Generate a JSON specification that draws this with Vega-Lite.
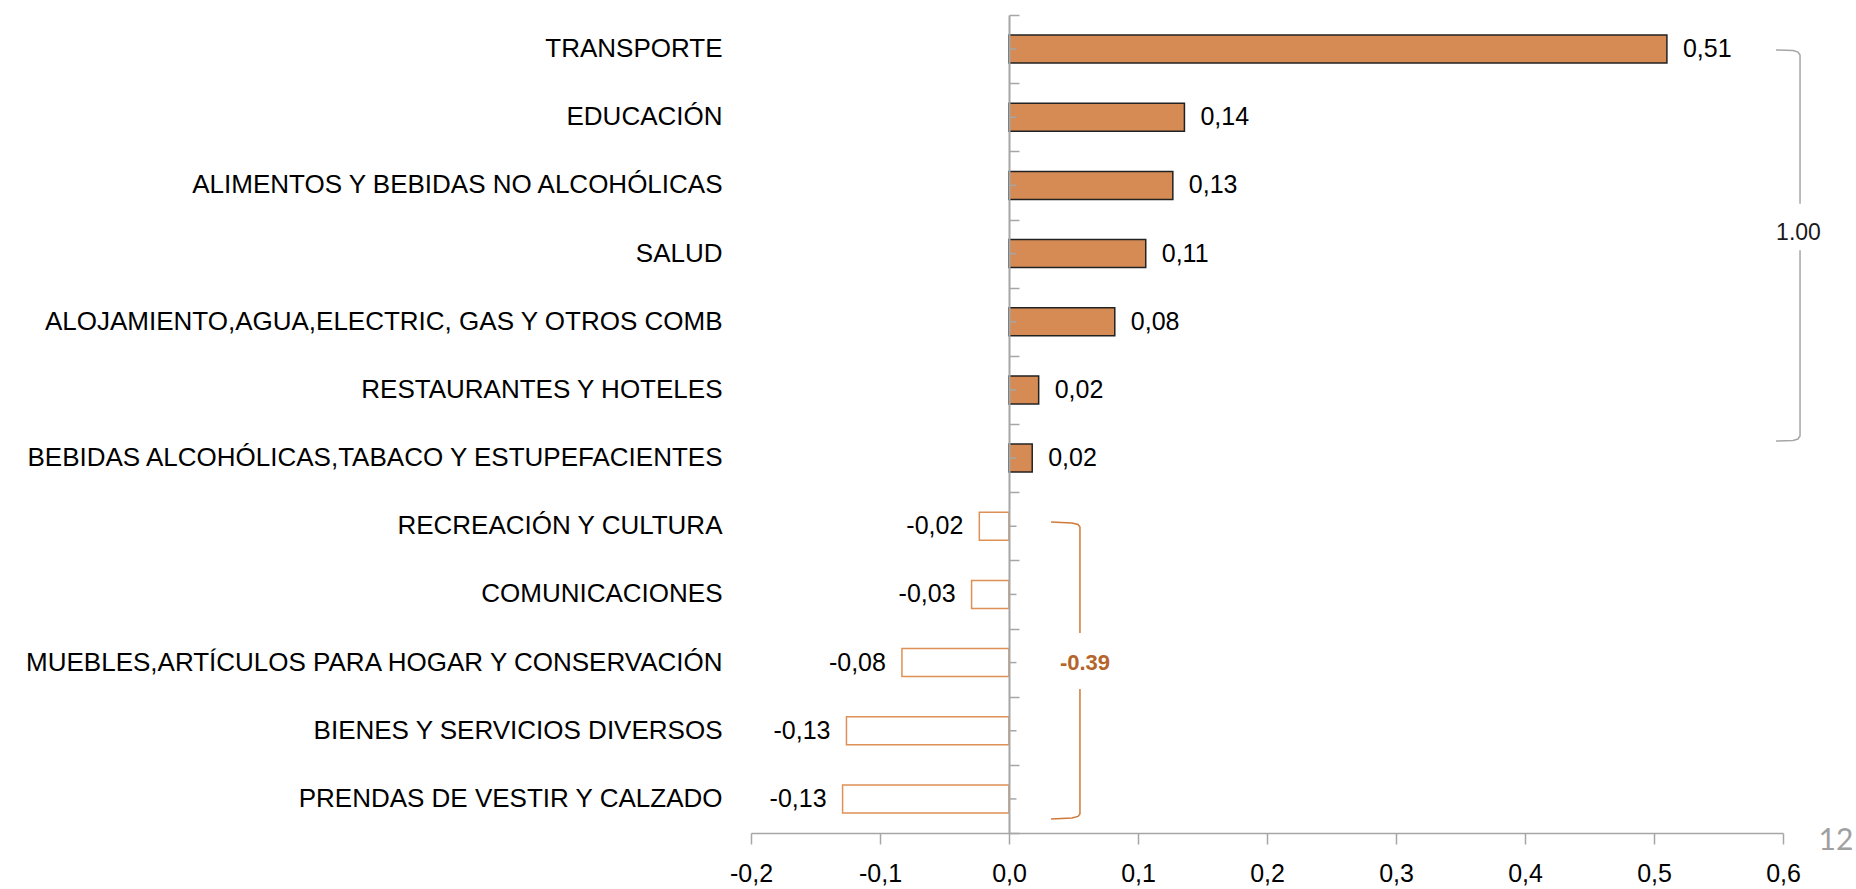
{
  "$schema": "https://vega.github.io/schema/vega-lite/v6.json",
  "width": 1032,
  "height": 818,
  "autosize": "none",
  "padding": {"left": 751, "top": 15, "right": 73, "bottom": 56},
  "background": "white",
  "config": {
    "view": {"stroke": null},
    "locale": {"number": {"decimal": ",", "thousands": ".", "grouping": [3], "currency": ["", ""], "minus": "-"}}
  },
  "datasets": {
    "rubros": [
      {"cat": "TRANSPORTE", "v": 0.51},
      {"cat": "EDUCACIÓN\u00a0", "v": 0.136},
      {"cat": "ALIMENTOS Y BEBIDAS NO ALCOHÓLICAS\u00a0", "v": 0.127},
      {"cat": "SALUD", "v": 0.106},
      {"cat": "ALOJAMIENTO,AGUA,ELECTRIC, GAS Y OTROS COMB\u00a0", "v": 0.082},
      {"cat": "RESTAURANTES Y HOTELES", "v": 0.023},
      {"cat": "BEBIDAS ALCOHÓLICAS,TABACO Y ESTUPEFACIENTES\u00a0", "v": 0.018},
      {"cat": "RECREACIÓN Y CULTURA\u00a0", "v": -0.023},
      {"cat": "COMUNICACIONES\u00a0", "v": -0.029},
      {"cat": "MUEBLES,ARTÍCULOS PARA HOGAR Y CONSERVACIÓN", "v": -0.083},
      {"cat": "BIENES Y SERVICIOS DIVERSOS\u00a0", "v": -0.126},
      {"cat": "PRENDAS DE VESTIR Y CALZADO", "v": -0.129}
    ],
    "llaves": [
      {"grp": "pos", "seg": "p1", "ord": 1, "x": 0.5946, "y": 0.513},
      {"grp": "pos", "seg": "p1", "ord": 2, "x": 0.6078, "y": 0.52},
      {"grp": "pos", "seg": "p1", "ord": 3, "x": 0.6116, "y": 0.543},
      {"grp": "pos", "seg": "p1", "ord": 4, "x": 0.6132, "y": 0.587},
      {"grp": "pos", "seg": "p1", "ord": 5, "x": 0.6132, "y": 2.77},
      {"grp": "pos", "seg": "p2", "ord": 1, "x": 0.6132, "y": 3.45},
      {"grp": "pos", "seg": "p2", "ord": 2, "x": 0.6132, "y": 6.176},
      {"grp": "pos", "seg": "p2", "ord": 3, "x": 0.6116, "y": 6.22},
      {"grp": "pos", "seg": "p2", "ord": 4, "x": 0.6078, "y": 6.242},
      {"grp": "pos", "seg": "p2", "ord": 5, "x": 0.5946, "y": 6.25},
      {"grp": "neg", "seg": "n1", "ord": 1, "x": 0.0326, "y": 7.437},
      {"grp": "neg", "seg": "n1", "ord": 2, "x": 0.0488, "y": 7.452},
      {"grp": "neg", "seg": "n1", "ord": 3, "x": 0.0535, "y": 7.474},
      {"grp": "neg", "seg": "n1", "ord": 4, "x": 0.055, "y": 7.511},
      {"grp": "neg", "seg": "n1", "ord": 5, "x": 0.055, "y": 9.066},
      {"grp": "neg", "seg": "n2", "ord": 1, "x": 0.055, "y": 9.887},
      {"grp": "neg", "seg": "n2", "ord": 2, "x": 0.055, "y": 11.72},
      {"grp": "neg", "seg": "n2", "ord": 3, "x": 0.0535, "y": 11.757},
      {"grp": "neg", "seg": "n2", "ord": 4, "x": 0.0488, "y": 11.78},
      {"grp": "neg", "seg": "n2", "ord": 5, "x": 0.0326, "y": 11.794}
    ]
  },
  "layer": [
    {
      "data": {"name": "rubros"},
      "mark": {"type": "bar", "strokeWidth": 1.5},
      "encoding": {
        "y": {
          "field": "cat", "type": "nominal", "sort": null,
          "scale": {"paddingInner": 0.59, "paddingOuter": 0.295},
          "axis": {
            "orient": "left", "title": null, "domain": false, "ticks": false,
            "labelFont": "Liberation Sans, Arial, sans-serif",
            "labelFontSize": 26, "labelColor": "#000000", "labelPadding": 29, "labelLimit": 1200
          }
        },
        "x": {
          "field": "v", "type": "quantitative", "title": null,
          "scale": {"domain": [-0.2, 0.6], "nice": false},
          "axis": {
            "title": null, "grid": false,
            "values": [-0.2, -0.1, 0, 0.1, 0.2, 0.3, 0.4, 0.5, 0.6],
            "format": ".1f",
            "domainColor": "#A6A6A6", "domainWidth": 1.5,
            "tickColor": "#A6A6A6", "tickWidth": 1.5, "tickSize": 11,
            "labelFont": "Liberation Sans, Arial, sans-serif",
            "labelFontSize": 25, "labelColor": "#000000", "labelPadding": 17,
            "labelFlush": false, "labelOverlap": false
          }
        },
        "fill": {"condition": {"test": "datum.v > 0", "value": "#D68B55"}, "value": "#FFFFFF"},
        "stroke": {"condition": {"test": "datum.v > 0", "value": "#222222"}, "value": "#DE9056"}
      }
    },
    {
      "data": {"name": "rubros"},
      "mark": {"type": "rule", "color": "#A6A6A6", "strokeWidth": 1.5},
      "encoding": {
        "y": {"field": "cat", "type": "nominal", "sort": null, "axis": null},
        "x": {
          "datum": 0, "type": "quantitative", "title": null,
          "axis": {
            "title": null, "grid": false,
            "values": [-0.2, -0.1, 0, 0.1, 0.2, 0.3, 0.4, 0.5, 0.6],
            "format": ".1f",
            "domainColor": "#A6A6A6", "domainWidth": 1.5,
            "tickColor": "#A6A6A6", "tickWidth": 1.5, "tickSize": 11,
            "labelFont": "Liberation Sans, Arial, sans-serif",
            "labelFontSize": 25, "labelColor": "#000000", "labelPadding": 17,
            "labelFlush": false, "labelOverlap": false
          }
        },
        "x2": {"datum": 0.0058}
      }
    },
    {
      "data": {"name": "rubros"},
      "mark": {
        "type": "text", "baseline": "middle",
        "align": {"expr": "datum.v < 0 ? 'right' : 'left'"},
        "dx": {"expr": "datum.v < 0 ? -16 : 16"},
        "font": "Liberation Sans, Arial, sans-serif",
        "fontSize": 25, "color": "#000000"
      },
      "encoding": {
        "y": {"field": "cat", "type": "nominal", "sort": null, "axis": null},
        "x": {
          "field": "v", "type": "quantitative", "title": null,
          "axis": {
            "title": null, "grid": false,
            "values": [-0.2, -0.1, 0, 0.1, 0.2, 0.3, 0.4, 0.5, 0.6],
            "format": ".1f",
            "domainColor": "#A6A6A6", "domainWidth": 1.5,
            "tickColor": "#A6A6A6", "tickWidth": 1.5, "tickSize": 11,
            "labelFont": "Liberation Sans, Arial, sans-serif",
            "labelFontSize": 25, "labelColor": "#000000", "labelPadding": 17,
            "labelFlush": false, "labelOverlap": false
          }
        },
        "text": {"field": "v", "type": "quantitative", "format": ".2f"}
      }
    },
    {
      "data": {"name": "llaves"},
      "mark": {"type": "line", "strokeWidth": 1.5},
      "encoding": {
        "x": {
          "field": "x", "type": "quantitative", "title": null,
          "axis": {
            "title": null, "grid": false,
            "values": [-0.2, -0.1, 0, 0.1, 0.2, 0.3, 0.4, 0.5, 0.6],
            "format": ".1f",
            "domainColor": "#A6A6A6", "domainWidth": 1.5,
            "tickColor": "#A6A6A6", "tickWidth": 1.5, "tickSize": 11,
            "labelFont": "Liberation Sans, Arial, sans-serif",
            "labelFontSize": 25, "labelColor": "#000000", "labelPadding": 17,
            "labelFlush": false, "labelOverlap": false
          }
        },
        "y": {
          "field": "y", "type": "quantitative",
          "scale": {"domain": [0, 12], "reverse": true, "nice": false, "zero": false},
          "axis": {
            "orient": "right", "offset": -774, "title": null, "labels": false, "grid": false,
            "values": [0, 1, 2, 3, 4, 5, 6, 7, 8, 9, 10, 11, 12],
            "domain": true, "domainColor": "#A6A6A6", "domainWidth": 2,
            "ticks": true, "tickColor": "#A6A6A6", "tickWidth": 1.5, "tickSize": 10,
            "zindex": 1
          }
        },
        "detail": {"field": "seg", "type": "nominal"},
        "order": {"field": "ord", "type": "quantitative"},
        "color": {"field": "grp", "type": "nominal", "scale": {"domain": ["pos", "neg"], "range": ["#A6A6A6", "#D07A3A"]}, "legend": null}
      }
    },
    {
      "data": {"values": [{"txt": "1.00", "x": 0.612, "y": 3.2}]},
      "mark": {"type": "text", "align": "center", "baseline": "middle", "font": "Liberation Sans, Arial, sans-serif", "fontSize": 23, "color": "#1A1A1A"},
      "encoding": {
        "x": {
          "field": "x", "type": "quantitative", "title": null,
          "axis": {
            "title": null, "grid": false,
            "values": [-0.2, -0.1, 0, 0.1, 0.2, 0.3, 0.4, 0.5, 0.6],
            "format": ".1f",
            "domainColor": "#A6A6A6", "domainWidth": 1.5,
            "tickColor": "#A6A6A6", "tickWidth": 1.5, "tickSize": 11,
            "labelFont": "Liberation Sans, Arial, sans-serif",
            "labelFontSize": 25, "labelColor": "#000000", "labelPadding": 17,
            "labelFlush": false, "labelOverlap": false
          }
        },
        "y": {"field": "y", "type": "quantitative", "scale": {"domain": [0, 12], "reverse": true, "nice": false, "zero": false}, "axis": null},
        "text": {"field": "txt"}
      }
    },
    {
      "data": {"values": [{"txt": "-0.39", "x": 0.0589, "y": 9.51}]},
      "mark": {"type": "text", "align": "center", "baseline": "middle", "font": "Liberation Sans, Arial, sans-serif", "fontSize": 22, "fontWeight": "bold", "color": "#B5652A"},
      "encoding": {
        "x": {
          "field": "x", "type": "quantitative", "title": null,
          "axis": {
            "title": null, "grid": false,
            "values": [-0.2, -0.1, 0, 0.1, 0.2, 0.3, 0.4, 0.5, 0.6],
            "format": ".1f",
            "domainColor": "#A6A6A6", "domainWidth": 1.5,
            "tickColor": "#A6A6A6", "tickWidth": 1.5, "tickSize": 11,
            "labelFont": "Liberation Sans, Arial, sans-serif",
            "labelFontSize": 25, "labelColor": "#000000", "labelPadding": 17,
            "labelFlush": false, "labelOverlap": false
          }
        },
        "y": {"field": "y", "type": "quantitative", "scale": {"domain": [0, 12], "reverse": true, "nice": false, "zero": false}, "axis": null},
        "text": {"field": "txt"}
      }
    },
    {
      "data": {"values": [{"txt": "12", "x": 0.641, "y": 12.12}]},
      "mark": {"type": "text", "align": "center", "baseline": "middle", "font": "Lato, 'Open Sans', sans-serif", "fontSize": 30, "color": "#A0A0A0"},
      "encoding": {
        "x": {
          "field": "x", "type": "quantitative", "title": null,
          "axis": {
            "title": null, "grid": false,
            "values": [-0.2, -0.1, 0, 0.1, 0.2, 0.3, 0.4, 0.5, 0.6],
            "format": ".1f",
            "domainColor": "#A6A6A6", "domainWidth": 1.5,
            "tickColor": "#A6A6A6", "tickWidth": 1.5, "tickSize": 11,
            "labelFont": "Liberation Sans, Arial, sans-serif",
            "labelFontSize": 25, "labelColor": "#000000", "labelPadding": 17,
            "labelFlush": false, "labelOverlap": false
          }
        },
        "y": {"field": "y", "type": "quantitative", "scale": {"domain": [0, 12], "reverse": true, "nice": false, "zero": false}, "axis": null},
        "text": {"field": "txt"}
      }
    }
  ],
  "resolve": {"scale": {"y": "independent"}}
}
